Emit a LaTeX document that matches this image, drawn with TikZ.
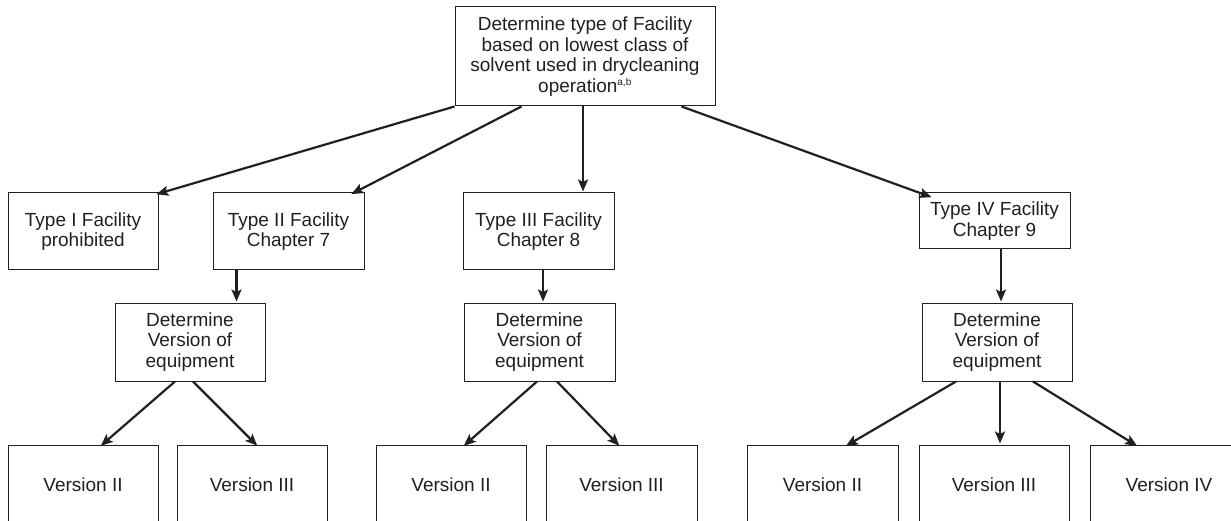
\documentclass[tikz,border=0pt]{standalone}
\usepackage{fontspec}
\setmainfont{Liberation Sans}
\usetikzlibrary{arrows.meta,calc}
\definecolor{ink}{HTML}{231F20}
\tikzset{
  box/.style={draw=ink, line width=1pt, align=center, inner sep=0pt, text=ink,
    font=\fontsize{19}{20.5}\selectfont},
  arr/.style={draw=ink, line width=2.2pt, -{Stealth[length=12pt,width=10pt,inset=2.5pt]}, shorten >=1pt},
}
\begin{document}
\begin{tikzpicture}[x=1pt,y=-1pt]
\useasboundingbox (0,0) rectangle (1231,521);
\clip (0,0) rectangle (1231,521);
\node[box, minimum width=260pt, minimum height=99pt] (top) at (585,56.5)
  {Determine type of Facility\\based on lowest class of\\solvent used in drycleaning\\operation\textsuperscript{\fontsize{10}{10}\selectfont a,b}};
\node[box, minimum width=150pt, minimum height=77pt] (t1) at (83,231.5) {Type I Facility\\prohibited};
\node[box, minimum width=151pt, minimum height=77pt] (t2) at (288.5,231.5) {Type II Facility\\Chapter 7};
\node[box, minimum width=151pt, minimum height=77pt] (t3) at (538.5,231.5) {Type III Facility\\Chapter 8};
\node[box, minimum width=151pt, minimum height=56pt] (t4) at (994.5,221) {Type IV Facility\\Chapter 9};
\node[box, minimum width=150pt, minimum height=78pt] (d1) at (190,342) {Determine\\Version of\\equipment};
\node[box, minimum width=151pt, minimum height=78pt] (d2) at (539.5,342) {Determine\\Version of\\equipment};
\node[box, minimum width=150pt, minimum height=78pt] (d3) at (997,342) {Determine\\Version of\\equipment};
\node[box, minimum width=150pt, minimum height=80pt] (v1) at (83,485) {Version II};
\node[box, minimum width=150pt, minimum height=80pt] (v2) at (252,485) {Version III};
\node[box, minimum width=150pt, minimum height=80pt] (v3) at (451,485) {Version II};
\node[box, minimum width=151pt, minimum height=80pt] (v4) at (621.5,485) {Version III};
\node[box, minimum width=151pt, minimum height=80pt] (v5) at (822.5,485) {Version II};
\node[box, minimum width=150pt, minimum height=80pt] (v6) at (994,485) {Version III};
\node[box, minimum width=158pt, minimum height=80pt] (v7) at (1169,485) {Version IV};
% top arrows
\draw[arr] (top.south west) -- ([xshift=-3pt,yshift=-2pt]t1.north east);
\draw[arr] ([xshift=67pt]top.south west) -- ([xshift=-14pt,yshift=-2pt]t2.north east);
\draw[arr] ([xshift=-2pt]top.south) -- ([xshift=-2pt]top.south |- t3.north);
\draw[arr] ([xshift=-34pt]top.south east) -- ([xshift=14pt,yshift=-5pt]t4.north west);
% down arrows
\draw[arr] ([xshift=24pt]t2.south west) -- ([xshift=24pt]t2.south west |- d1.north);
\draw[arr] ([xshift=4.5pt]t3.south) -- ([xshift=4.5pt]t3.south |- d2.north);
\draw[arr] ([xshift=6.5pt]t4.south) -- ([xshift=6.5pt]t4.south |- d3.north);
% version arrows
\draw[arr] ([xshift=-15pt]d1.south) -- ([xshift=17pt,yshift=-2pt]v1.north);
\draw[arr] ([xshift=3pt]d1.south) -- ([xshift=6pt,yshift=-2pt]v2.north);
\draw[arr] ([xshift=-2.5pt]d2.south) -- ([xshift=12pt,yshift=-2pt]v3.north);
\draw[arr] ([xshift=17.5pt]d2.south) -- ([xshift=-1.5pt,yshift=-2pt]v4.north);
\draw[arr] ([xshift=-41pt]d3.south) -- ([xshift=22.5pt,yshift=-2pt]v5.north);
\draw[arr] ([xshift=3pt]d3.south) -- ([xshift=3pt]d3.south |- v6.north);
\draw[arr] ([xshift=36pt]d3.south) -- ([xshift=-31pt,yshift=-2pt]v7.north);
\end{tikzpicture}
\end{document}
